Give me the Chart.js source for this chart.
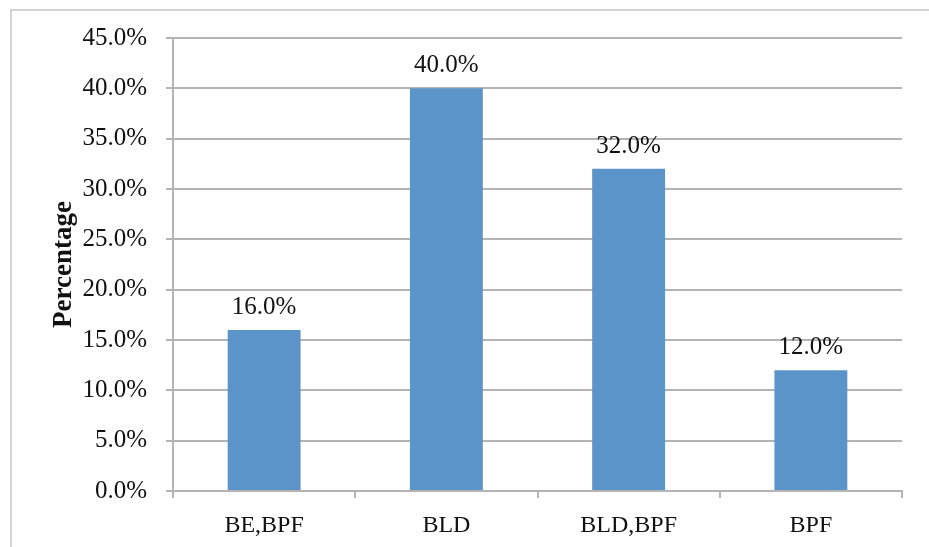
<!DOCTYPE html>
<html>
<head>
<meta charset="utf-8">
<script src="https://cdn.jsdelivr.net/npm/chart.js@4.4.1/dist/chart.umd.min.js"></script>
<style>
  body { margin: 0; background: #fff; overflow: hidden; }
  #wrap { position: relative; width: 929px; height: 547px; }
</style>
</head>
<body>
<div id="wrap"><canvas id="myChart" width="929" height="547"></canvas></div>
<script>
// chart data
var categories = ['BE,BPF', 'BLD', 'BLD,BPF', 'BPF'];
var percentValues = [16.0, 40.0, 32.0, 12.0];
var yTicks = [0, 5, 10, 15, 20, 25, 30, 35, 40, 45];

var serif = "'Liberation Serif', 'DejaVu Serif', serif";
var gridGray = '#b4b4b4';

// outer frame like the original picture
var framePlugin = {
    id: 'frame',
    beforeDraw: function(chart){
        var ctx = chart.ctx;
        ctx.save();
        ctx.fillStyle = '#fff';
        ctx.fillRect(0, 0, chart.width, chart.height);
        ctx.strokeStyle = '#d4d4d4';
        ctx.lineWidth = 2;
        ctx.beginPath();
        ctx.moveTo(11, chart.height);
        ctx.lineTo(11, 10);
        ctx.lineTo(chart.width, 10);
        ctx.stroke();
        ctx.restore();
    }
};

// value labels above the bars
var valueLabels = {
    id: 'valueLabels',
    afterDatasetsDraw: function(chart){
        var ctx = chart.ctx;
        var meta = chart.getDatasetMeta(0);
        ctx.save();
        ctx.font = '25px ' + serif;
        ctx.fillStyle = '#111';
        ctx.textAlign = 'center';
        ctx.textBaseline = 'alphabetic';
        meta.data.forEach(function(bar, i){
            ctx.fillText(percentValues[i].toFixed(1) + '%', bar.x, bar.y - 16);
        });
        ctx.restore();
    }
};

var ctx = document.getElementById('myChart').getContext('2d');
var myChart = new Chart(ctx, {
    type: 'bar',
    data: {
        labels: categories,
        datasets: [{
            label: 'Percentage',
            data: percentValues,
            backgroundColor: '#5b94c8',
            borderWidth: 0,
            categoryPercentage: 1.0,
            barPercentage: 0.4
        }]
    },
    plugins: [framePlugin, valueLabels],
    options: {
        responsive: false,
        animation: false,
        devicePixelRatio: 1,
        layout: {
            padding: { left: 0, top: 38, right: 27, bottom: 0 }
        },
        plugins: {
            legend: { display: false },
            tooltip: { enabled: false }
        },
        scales: {
            x: {
                grid: {
                    offset: true,
                    drawOnChartArea: false,
                    drawTicks: true,
                    tickLength: 7,
                    color: gridGray,
                    lineWidth: 2
                },
                border: { color: gridGray, width: 2 },
                ticks: {
                    color: '#111',
                    padding: 13,
                    font: { family: serif, size: 24 }
                },
                afterFit: function(scale){ scale.height = 56; }
            },
            y: {
                min: 0,
                max: 45,
                afterBuildTicks: function(scale){
                    scale.ticks = yTicks.map(function(v){ return { value: v }; });
                },
                grid: {
                    color: gridGray,
                    lineWidth: 2,
                    tickLength: 7
                },
                border: { color: gridGray, width: 2 },
                ticks: {
                    color: '#111',
                    padding: 19,
                    font: { family: serif, size: 25 },
                    callback: function(v){ return v.toFixed(1) + '%'; }
                },
                title: {
                    display: true,
                    text: 'Percentage',
                    color: '#111',
                    padding: { top: 48, bottom: 0 },
                    font: { family: serif, size: 27, weight: 'bold' }
                },
                afterFit: function(scale){ scale.width = 173; }
            }
        }
    }
});
</script>
</body>
</html>
